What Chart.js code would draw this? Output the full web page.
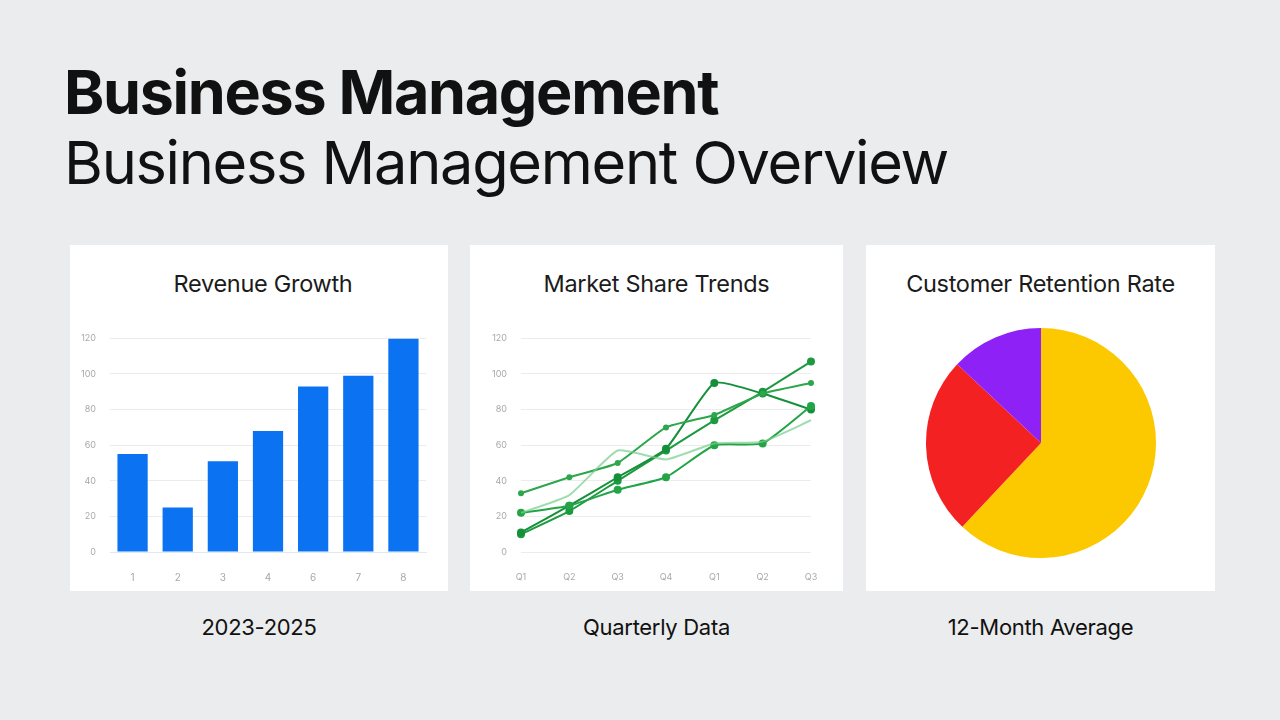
<!DOCTYPE html>
<html>
<head>
<meta charset="utf-8">
<script src="https://cdn.jsdelivr.net/npm/chart.js@4.4.1/dist/chart.umd.min.js"></script>
<style>
  html, body { margin: 0; padding: 0; }
  body {
    width: 1280px; height: 720px; overflow: hidden; position: relative;
    background: #ebeced; font-family: Inter, "Noto Sans", sans-serif; color: #111;
  }
  .h1 { position: absolute; left: 64px; top: 56px; font-size: 61px; font-weight: 700; letter-spacing: -1.3px; line-height: 72px; }
  .h2 { position: absolute; left: 64px; top: 126px; font-size: 59.5px; font-weight: 400; letter-spacing: -1.3px; line-height: 72px; }
  .card { position: absolute; top: 245px; height: 346px; background: #fff; }
  .card-title { position: absolute; top: 269px; text-align: center; font-size: 23.5px; color: #1b1b1b; letter-spacing: -0.3px; }
  .caption { position: absolute; top: 614px; text-align: center; font-size: 22px; color: #111; letter-spacing: -0.3px; }
  .box { position: absolute; }
</style>
</head>
<body>
<div class="h1">Business Management</div>
<div class="h2">Business Management Overview</div>

<div class="card" style="left:70px;width:378px"></div>
<div class="card" style="left:470px;width:373px"></div>
<div class="card" style="left:866px;width:349px"></div>

<div class="card-title" style="left:74px;width:378px">Revenue Growth</div>
<div class="card-title" style="left:470px;width:373px">Market Share Trends</div>
<div class="card-title" style="left:866px;width:349px">Customer Retention Rate</div>

<div class="box" style="left:70px;top:319px;width:364px;height:263px"><canvas id="barChart"></canvas></div>
<div class="box" style="left:478px;top:319px;width:355px;height:263px"><canvas id="lineChart"></canvas></div>
<div class="box" style="left:926px;top:328px;width:230px;height:230px"><canvas id="pieChart"></canvas></div>

<div class="caption" style="left:70px;width:378px">2023-2025</div>
<div class="caption" style="left:470px;width:373px">Quarterly Data</div>
<div class="caption" style="left:866px;width:349px">12-Month Average</div>

<script>
// revenue growth
const barLabels = ['1', '2', '3', '4', '6', '7', '8'];
const barValues = [55, 25, 51, 68, 93, 99, 120];
const barTicks = [0, 20, 40, 60, 80, 100, 120];

// market share trends
const lineLabels = ['Q1', 'Q2', 'Q3', 'Q4', 'Q1', 'Q2', 'Q3'];
const lineTicks = [0, 20, 40, 60, 80, 100, 120];
const shareA = [10, 23, 40, 57, 74, 90, 107];
const shareB = [11, 26, 42, 58, 95, 89, 80];
const shareC = [33, 42, 50, 70, 77, 89, 95];
const shareD = [22, 26, 35, 42, 60, 61, 82];
const shareE = [22, 32, 57, 52, 61, 62, 74];

// customer retention
const pieLabels = ['Retained', 'Lost', 'At Risk'];
const pieValues = [62, 25, 13];

Chart.defaults.font.family = 'Inter, "Noto Sans", sans-serif';
Chart.defaults.animation = false;

const tickColor = '#a8a8a8';
const gridColor = '#ececec';

function yAxis(ticks, width) {
    return {
        min: ticks[0],
        max: ticks[ticks.length - 1],
        afterBuildTicks: (scale) => { scale.ticks = ticks.map(v => ({ value: v })); },
        afterFit: (scale) => { scale.width = width; },
        grid: { color: gridColor, drawTicks: false },
        border: { display: false },
        ticks: { color: tickColor, font: { size: 9 }, padding: 14 }
    };
}

new Chart(document.getElementById('barChart'), {
    type: 'bar',
    data: {
        labels: barLabels,
        datasets: [{
            data: barValues,
            backgroundColor: '#0b72f2',
            barPercentage: 0.67,
            categoryPercentage: 1
        }]
    },
    options: {
        responsive: true,
        maintainAspectRatio: false,
        layout: { padding: { top: 0, right: 8 } },
        plugins: { legend: { display: false }, tooltip: { enabled: false } },
        scales: {
            x: {
                afterFit: (scale) => { scale.height = 30; },
                grid: { display: false },
                border: { color: '#dfe8f5' },
                ticks: { color: tickColor, font: { size: 10 }, padding: 12 }
            },
            y: yAxis(barTicks, 40)
        }
    }
});

function lineSet(values, color, radius) {
    return {
        data: values,
        borderColor: color,
        backgroundColor: color,
        borderWidth: 2,
        pointRadius: radius,
        pointBorderWidth: 0,
        tension: 0.15,
        clip: false
    };
}

new Chart(document.getElementById('lineChart'), {
    type: 'line',
    data: {
        labels: lineLabels,
        datasets: [
            lineSet(shareE, 'rgba(120,205,140,0.7)', 0),
            lineSet(shareD, '#22a447', 4),
            lineSet(shareC, '#2da64c', 3),
            lineSet(shareB, '#15903a', 4),
            lineSet(shareA, '#1d9a40', 4)
        ]
    },
    options: {
        responsive: true,
        maintainAspectRatio: false,
        layout: { padding: { top: 0, right: 22 } },
        plugins: { legend: { display: false }, tooltip: { enabled: false } },
        scales: {
            x: {
                afterFit: (scale) => { scale.height = 30; },
                grid: { display: false },
                border: { display: false },
                ticks: { color: tickColor, font: { size: 9 }, padding: 12 }
            },
            y: yAxis(lineTicks, 43)
        }
    }
});

new Chart(document.getElementById('pieChart'), {
    type: 'pie',
    data: {
        labels: pieLabels,
        datasets: [{
            data: pieValues,
            backgroundColor: ['#fcc900', '#f42122', '#8e22f6'],
            borderWidth: 0
        }]
    },
    options: {
        responsive: true,
        maintainAspectRatio: false,
        plugins: { legend: { display: false }, tooltip: { enabled: false } }
    }
});
</script>
</body>
</html>
